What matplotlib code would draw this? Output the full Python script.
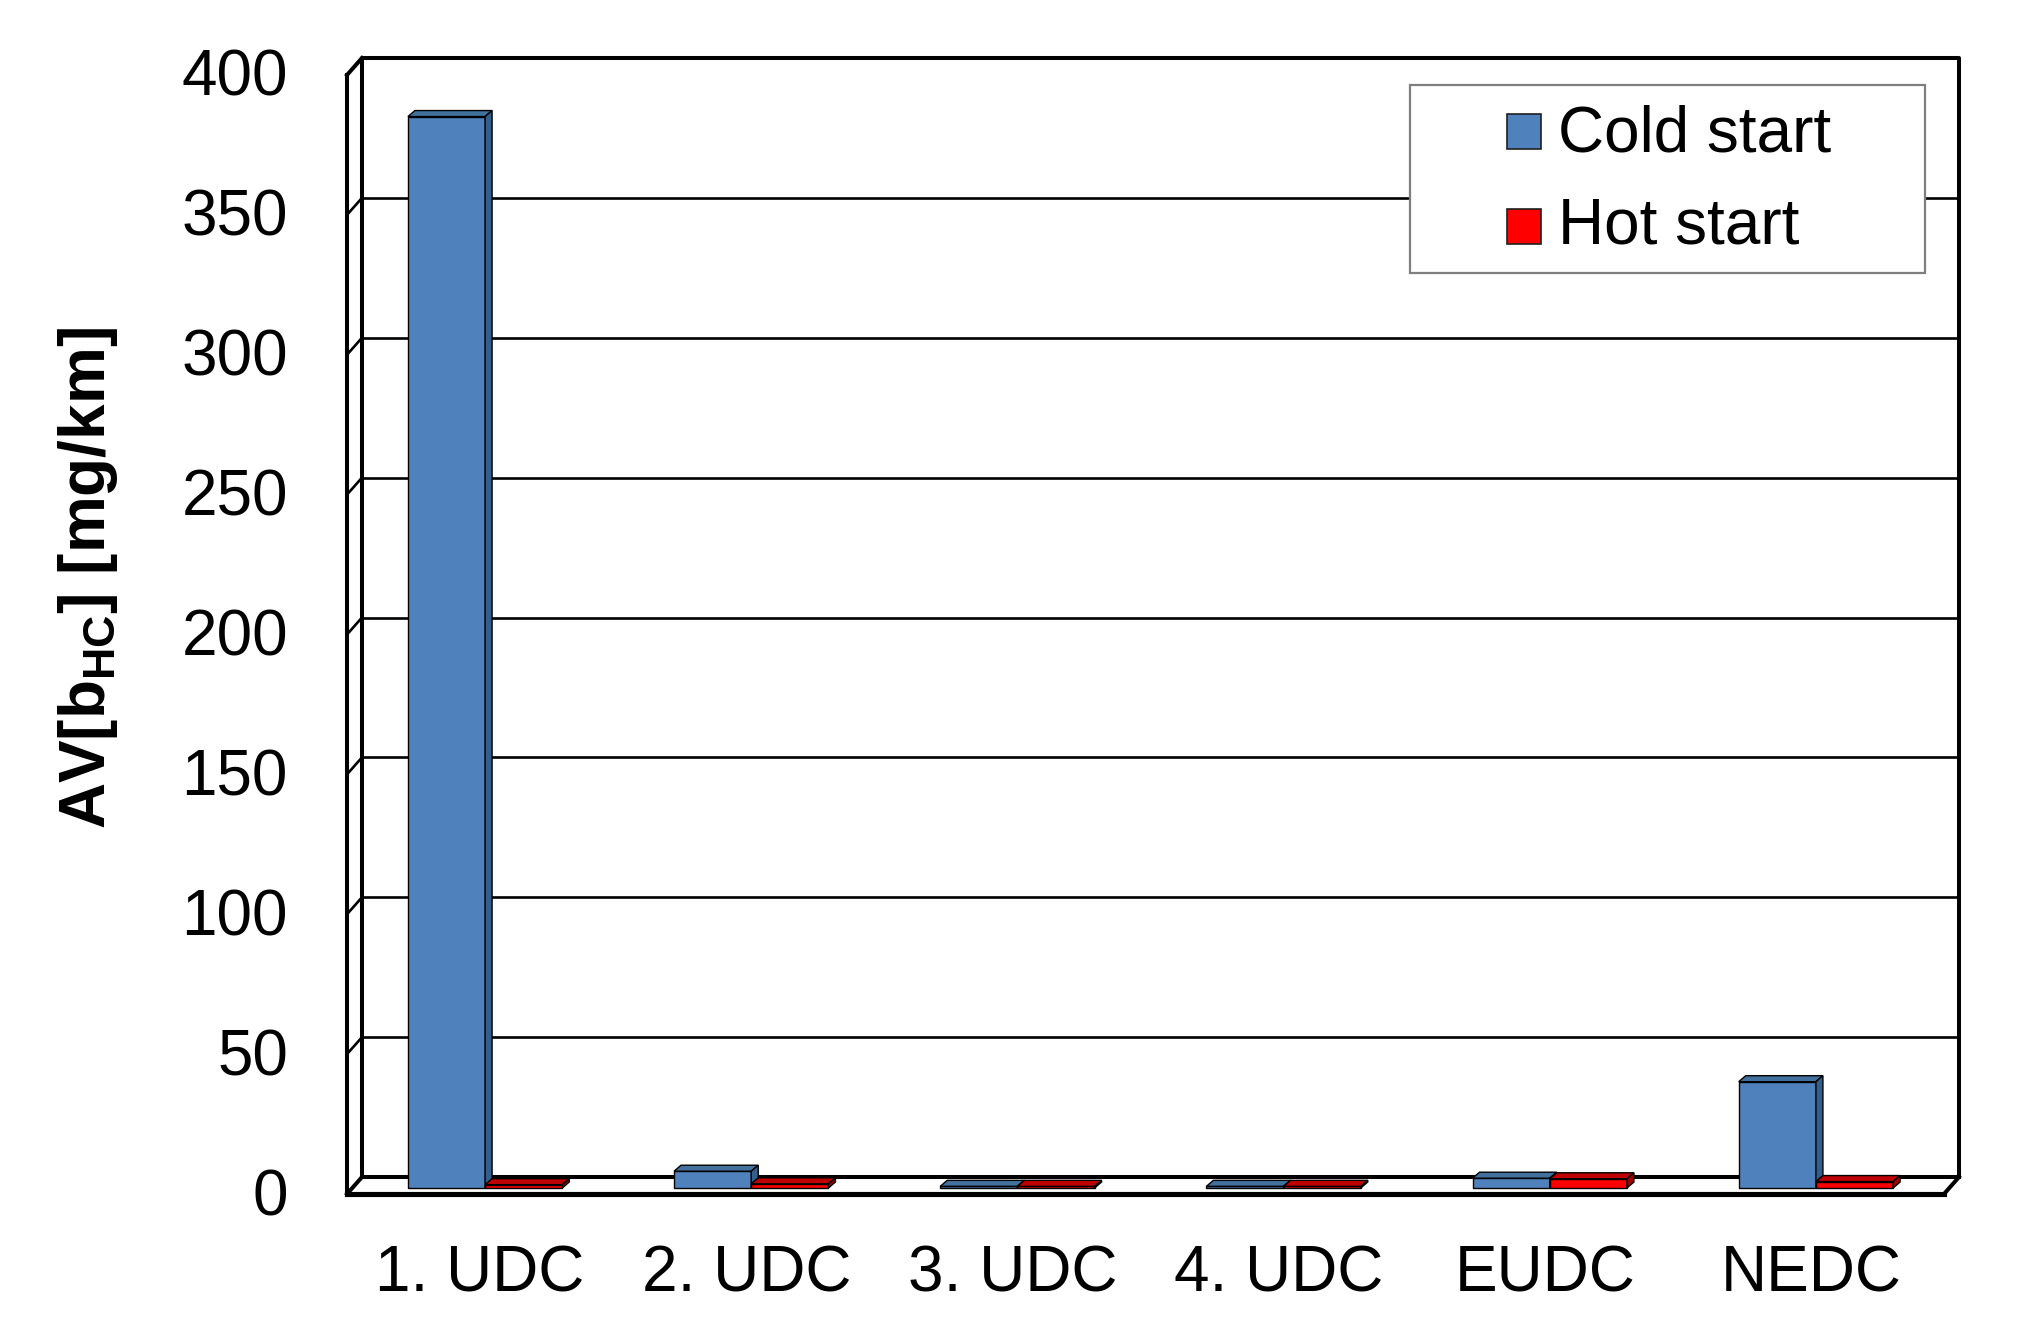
import numpy as np
import matplotlib
matplotlib.use("Agg")
import matplotlib.pyplot as plt
from matplotlib.patches import Polygon, Rectangle
from matplotlib.lines import Line2D
from matplotlib.transforms import ScaledTranslation, IdentityTransform

# data
categories = ["1. UDC", "2. UDC", "3. UDC", "4. UDC", "EUDC", "NEDC"]
cold_start = [383, 6, 0.6, 0.6, 3.5, 38]
hot_start = [1.2, 1.5, 0.6, 0.6, 3.3, 2.3]
series_labels = ["Cold start", "Hot start"]
y_ticks = [0, 50, 100, 150, 200, 250, 300, 350, 400]

plt.rcParams['font.family'] = ['Liberation Sans', 'DejaVu Sans']
plt.rcParams['mathtext.fontset'] = 'custom'
plt.rcParams['mathtext.rm'] = 'Liberation Sans:bold'
plt.rcParams['mathtext.it'] = 'Liberation Sans:bold'

W, H = 2025, 1342
fig = plt.figure(figsize=(W / 100, H / 100), dpi=100)

# back wall of the pseudo-3D box, in pixels
left, top, right, floor = 362, 58, 1959, 1177
ax = fig.add_axes([left / W, 1 - floor / H, (right - left) / W, (floor - top) / H])
ax.set_xlim(0, len(categories))
ax.set_ylim(0, y_ticks[-1])
ax.axis('off')


def shift(dx, dy):
    # pixel offset, dy positive = downwards
    return ScaledTranslation(dx / 100, -dy / 100, fig.dpi_scale_trans)


front = ax.transData + shift(-15, 17)
frame_lw = 2.9
grid_lw = 1.9
fs = 46


def px_line(p, q, lw):
    ax.add_line(Line2D([p[0], q[0]], [p[1], q[1]], transform=IdentityTransform(),
                       color='black', lw=lw, clip_on=False, zorder=2))


# gridlines on back wall and left wall
ax.hlines(y_ticks[1:-1], 0, len(categories), colors='black', lw=grid_lw, zorder=1)
for v in y_ticks[1:-1]:
    px_line(ax.transData.transform((0, v)), front.transform((0, v)), grid_lw)

# box frame
n = len(categories)
ymax = y_ticks[-1]
ax.plot([0, 0, n, n], [0, ymax, ymax, 0], color='black', lw=frame_lw, clip_on=False, zorder=2)
ax.plot([0, n], [0, 0], color='black', lw=frame_lw, clip_on=False, zorder=2)
ax.plot([0, 0], [0, ymax], color='black', lw=frame_lw, clip_on=False, zorder=2, transform=front)
ax.plot([0, n], [0, 0], color='black', lw=frame_lw + 0.8, clip_on=False, zorder=2, transform=front)
for pt in [(0, ymax), (0, 0), (n, 0)]:
    px_line(ax.transData.transform(pt), front.transform(pt), frame_lw)

# bars with fake depth
x = np.arange(n) + 0.5
w = 0.29
bar_front = ax.transData + shift(-10, 11)
depth = np.array([7, 6])
styles = [(cold_start, x - w, '#4F81BD', '#41719C', '#345E8C', 3),
          (hot_start, x, '#FF0000', '#C00000', '#A00000', 4)]
for vals, xs, c_front, c_top, c_side, z in styles:
    bars = ax.bar(xs, vals, w, align='edge', color=c_front, edgecolor='black',
                  lw=1, zorder=z, clip_on=False)
    for r in bars:
        r.set_transform(bar_front)
        x0, y0 = r.get_x(), r.get_y()
        x1, y1 = x0 + r.get_width(), y0 + r.get_height()
        p = bar_front.transform([(x0, y1), (x1, y1), (x1, y0)])
        ax.add_patch(Polygon([p[0], p[1], p[1] + depth, p[0] + depth], closed=True,
                             transform=IdentityTransform(), facecolor=c_top,
                             edgecolor='black', lw=1, zorder=z + 0.1, clip_on=False))
        ax.add_patch(Polygon([p[1], p[2], p[2] + depth, p[1] + depth], closed=True,
                             transform=IdentityTransform(), facecolor=c_side,
                             edgecolor='black', lw=1, zorder=z + 0.1, clip_on=False))

# tick labels
ytl = front + shift(-59, 4)
for v in y_ticks:
    ax.text(0, v, f"{v}", transform=ytl, ha='right', va='center', fontsize=fs)
xtl = front + shift(0, 81)
for xi, lab in zip(x, categories):
    ax.text(xi, 0, lab, transform=xtl, ha='center', va='center', fontsize=fs)

fig.text(88 / W, 1 - 578 / H, r'AV[b$_\mathrm{HC}$] [mg/km]', rotation=90,
         ha='center', va='center', fontsize=46, fontweight='bold')


# legend box
def fx(px):
    return px / W


def fy(py):
    return 1 - py / H


fig.add_artist(Rectangle((fx(1410), fy(273)), fx(1925) - fx(1410), fy(85) - fy(273),
                         transform=fig.transFigure, facecolor='white',
                         edgecolor='#7F7F7F', lw=1.6, zorder=5))
for lab, col, sq_top, base in [(series_labels[0], '#4F81BD', 114, 151),
                                (series_labels[1], '#FF0000', 209, 243)]:
    fig.add_artist(Rectangle((fx(1507), fy(sq_top + 35)), fx(1541) - fx(1507), fy(sq_top) - fy(sq_top + 35),
                             transform=fig.transFigure, facecolor=col,
                             edgecolor='#202020', lw=1.2, zorder=6))
    fig.text(fx(1558), fy(base), lab, ha='left', va='baseline', fontsize=fs, zorder=6)

fig.savefig("out.png", dpi=100)
